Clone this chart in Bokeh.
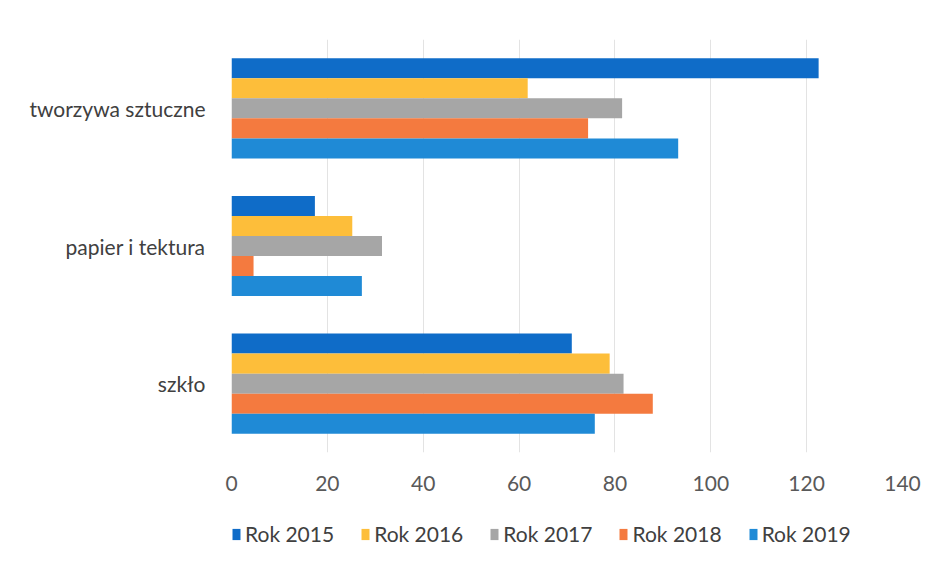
from bokeh.plotting import figure
from bokeh.models import ColumnDataSource, Legend, LegendItem, FixedTicker
from bokeh.layouts import column
from bokeh.transform import dodge
from bokeh.embed import file_html
from bokeh.resources import INLINE

categories = ["szkło", "papier i tektura", "tworzywa sztuczne"]
years = ["Rok 2015", "Rok 2016", "Rok 2017", "Rok 2018", "Rok 2019"]
rok_2015 = [71.0, 17.4, 122.5]
rok_2016 = [78.9, 25.2, 61.8]
rok_2017 = [81.8, 31.4, 81.5]
rok_2018 = [87.9, 4.6, 74.4]
rok_2019 = [75.8, 27.2, 93.2]
x_ticks = [0, 20, 40, 60, 80, 100, 120, 140]

colors = ["#0F6CC8", "#FDBE3A", "#A6A6A6", "#F47A3F", "#1F8AD6"]

src = ColumnDataSource(dict(cat=categories, y2015=rok_2015, y2016=rok_2016,
                            y2017=rok_2017, y2018=rok_2018, y2019=rok_2019))
cols = ["y2015", "y2016", "y2017", "y2018", "y2019"]

FONT = "Lato"

p = figure(y_range=categories, x_range=(0, 140),
           width=927, height=508,
           output_backend="svg", toolbar_location=None,
           min_border_left=231, min_border_right=25, min_border_top=39,
           min_border_bottom=56)
p.outline_line_color = None

bh = 0.1455
offsets = [2 * bh, bh, 0, -bh, -2 * bh]
for col, off, c in zip(cols, offsets, colors):
    p.hbar(y=dodge("cat", off, range=p.y_range), right=col, left=0,
           height=bh, source=src, color=c, line_color=None)

p.xaxis.ticker = FixedTicker(ticks=x_ticks)
p.xaxis.axis_line_color = None
p.xaxis.major_tick_line_color = None
p.xaxis.minor_tick_line_color = None
p.xaxis.major_label_text_font = FONT
p.xaxis.major_label_text_font_size = "21px"
p.xaxis.major_label_text_color = "#595959"
p.xaxis.major_label_standoff = 17

p.yaxis.axis_line_color = None
p.yaxis.major_tick_line_color = None
p.yaxis.major_label_text_font = FONT
p.yaxis.major_label_text_font_size = "21px"
p.yaxis.major_label_text_color = "#404040"
p.yaxis.major_label_standoff = 20

p.ygrid.grid_line_color = None
p.xgrid.grid_line_color = "#E3E3E3"
p.xgrid.grid_line_width = 1

# legend strip below the chart; its swatch renderers are zero-width bars
lg = figure(y_range=categories, x_range=(0, 140), width=927, height=52,
            output_backend="svg", toolbar_location=None,
            x_axis_location=None, y_axis_location=None,
            min_border=0)
lg.outline_line_color = None
lg.grid.grid_line_color = None
items = []
for col, off, c, name in zip(cols, offsets, colors, years):
    r = lg.hbar(y=dodge("cat", off, range=lg.y_range), right=col, left=col,
                height=bh, source=src, color=c, line_color=None)
    items.append(LegendItem(label=name, renderers=[r]))

legend = Legend(items=items, orientation="horizontal", location=(0, 14),
                label_text_font=FONT, label_text_font_size="21px",
                label_text_color="#404040", glyph_width=10, glyph_height=14,
                spacing=26, label_standoff=4, border_line_color=None,
                background_fill_alpha=0, padding=4, margin=0)
lg.add_layout(legend, "center")

layout = column(p, lg, spacing=0)
open("out.html", "w").write(file_html(layout, INLINE))
